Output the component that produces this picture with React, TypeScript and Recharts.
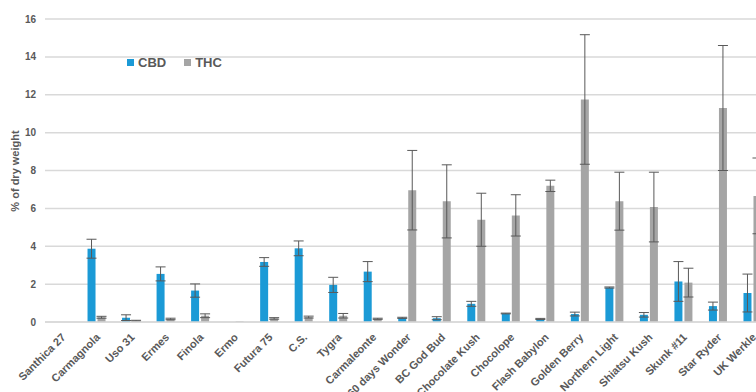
import { BarChart, Bar, XAxis, YAxis, CartesianGrid, ErrorBar, Legend } from 'recharts';

const strains = [
  'Santhica 27', 'Carmagnola', 'Uso 31', 'Ermes', 'Finola', 'Ermo', 'Futura 75', 'C.S.', 'Tygra',
  'Carmaleonte', '60 days Wonder', 'BC God Bud', 'Chocolate Kush', 'Chocolope', 'Flash Babylon',
  'Golden Berry', 'Northern Light', 'Shiatsu Kush', 'Skunk #11', 'Star Ryder', 'UK Werkle',
];
const cbd = [0, 3.87, 0.23, 2.54, 1.66, 0, 3.17, 3.89, 1.96, 2.66, 0.22, 0.2, 0.96, 0.45, 0.16, 0.42, 1.82, 0.38, 2.14, 0.84, 1.53];
const cbdErr = [0, 0.5, 0.15, 0.37, 0.35, 0, 0.23, 0.39, 0.4, 0.53, 0.03, 0.08, 0.13, 0.02, 0.03, 0.1, 0.03, 0.12, 1.05, 0.21, 1.0];
const thc = [0, 0.25, 0.07, 0.16, 0.33, 0.03, 0.19, 0.26, 0.33, 0.17, 6.96, 6.37, 5.4, 5.63, 7.19, 11.75, 6.38, 6.07, 2.08, 11.3, 6.66];
const thcErr = [0, 0.05, 0.02, 0.04, 0.1, 0, 0.04, 0.05, 0.12, 0.03, 2.1, 1.93, 1.4, 1.09, 0.3, 3.42, 1.53, 1.84, 0.76, 3.3, 2.0];
const yTicks = [0, 2, 4, 6, 8, 10, 12, 14, 16];

const data = strains.map((name, i) => ({ name, cbd: cbd[i], cbdErr: cbdErr[i], thc: thc[i], thcErr: thcErr[i] }));

const BLUE = '#1b9ad6';
const GREY = '#a5a5a5';
const TEXT = '#595959';
const FONT = '"Liberation Sans", Arial, sans-serif';

function XTick({ x, y, payload }: any) {
  const tx = x + 4;
  const ty = y + 8;
  return (
    <text x={tx} y={ty} textAnchor="end" transform={`rotate(-45, ${tx}, ${ty})`}
      fill={TEXT} fontSize={11} fontWeight="bold" fontFamily={FONT}>
      {payload.value}
    </text>
  );
}

function LegendBox() {
  const item = (color: string, label: string) => (
    <span style={{ display: 'inline-flex', alignItems: 'center', marginRight: 18 }}>
      <span style={{ width: 7, height: 7, background: color, marginRight: 4, display: 'inline-block' }} />
      <span style={{ color: TEXT, fontSize: 13, fontWeight: 'bold', fontFamily: FONT }}>{label}</span>
    </span>
  );
  return <div style={{ display: 'flex' }}>{item(BLUE, 'CBD')}{item(GREY, 'THC')}</div>;
}

export default function App() {
  return (
    <div style={{ position: 'fixed', left: 0, top: 0, width: 756, height: 392, overflow: 'hidden', background: '#fff' }}>
      <BarChart width={790} height={392} data={data} margin={{ top: 19, right: 20, bottom: 0, left: 0 }}
        barSize={8} barGap={2}>
        <CartesianGrid vertical={false} stroke="#d9d9d9" strokeWidth={1.5} />
        <XAxis dataKey="name" interval={0} height={70} tickLine={false} axisLine={{ stroke: '#d9d9d9', strokeWidth: 1.5 }}
          tick={<XTick />} />
        <YAxis width={45} domain={[0, 16]} ticks={yTicks} tickLine={false} axisLine={false} tickSize={0} tickMargin={9}
          tick={{ fill: TEXT, fontSize: 10, fontWeight: 'bold', fontFamily: FONT }}
          label={{
            content: () => (
              <text x={15} y={171} transform="rotate(-90, 15, 171)" textAnchor="middle" dominantBaseline="central"
                fill={TEXT} fontSize={11} fontWeight="bold" fontFamily={FONT}>% of dry weight</text>
            ),
          }} />
        <Legend layout="vertical" verticalAlign="middle" align="center" content={<LegendBox />}
          wrapperStyle={{ position: 'absolute', top: 55, left: 127, width: 'auto' }} />
        <Bar dataKey="cbd" name="CBD" fill={BLUE} isAnimationActive={false}>
          <ErrorBar dataKey="cbdErr" width={5} stroke="#595959" strokeWidth={1} />
        </Bar>
        <Bar dataKey="thc" name="THC" fill={GREY} isAnimationActive={false}>
          <ErrorBar dataKey="thcErr" width={5} stroke="#595959" strokeWidth={1} />
        </Bar>
      </BarChart>
    </div>
  );
}
